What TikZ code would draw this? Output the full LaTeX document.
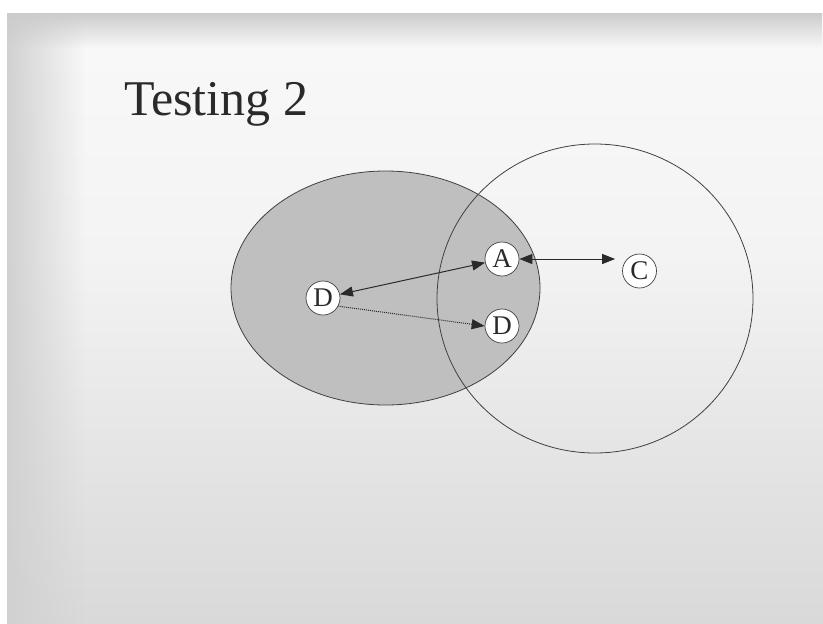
\documentclass[tikz,border=0pt]{standalone}
\usepackage{fontspec}
\setmainfont{Liberation Serif}
\usetikzlibrary{arrows.meta,fadings}
\definecolor{bgbottom}{HTML}{D0D0D0}
\definecolor{bglow}{HTML}{D5D5D5}
\definecolor{bgmid}{HTML}{E2E2E2}
\definecolor{bgup}{HTML}{F3F3F3}
\definecolor{bgtop}{HTML}{F9F9F9}
\definecolor{ellfill}{HTML}{BFBFBF}
\definecolor{inkc}{HTML}{2A2A2A}
\definecolor{edgec}{HTML}{404040}
\pgfdeclareverticalshading{slidebg}{100bp}{color(0bp)=(bgbottom); color(20bp)=(bglow); color(36bp)=(bgmid); color(55bp)=(bgup); color(75bp)=(bgtop); color(100bp)=(bgtop)}
\tikzfading[name=fadeR, left color=transparent!0, right color=transparent!100]
\tikzfading[name=fadeD, top color=transparent!0, bottom color=transparent!100]
\tikzset{
  pt/.style={circle, draw=edgec, line width=0.7pt, fill=white, inner sep=0pt,
    minimum width=34pt, minimum height=33pt, font=\fontsize{27}{27}\selectfont, text=inkc},
  link/.style={draw=inkc, line width=1pt, {Triangle[length=13pt,width=10pt]}-{Triangle[length=13pt,width=10pt]}},
  dotlink/.style={draw=inkc, line width=1pt, dash pattern=on 1pt off 1pt, -{Triangle[length=13pt,width=10pt]}},
  region/.style={draw=edgec, line width=0.8pt}
}
\begin{document}
\begin{tikzpicture}[x=1pt,y=-1pt]
\useasboundingbox (0,0) rectangle (823,624);
\fill[white] (0,0) rectangle (823,624);
\shade[shading=slidebg] (7,13) rectangle (823,624);
\fill[black!18, path fading=fadeR] (7,13) rectangle (85,624);
\fill[black!20, path fading=fadeD] (7,13) rectangle (823,48);
\node[anchor=base west, inner sep=0pt, text=inkc, font=\fontsize{50}{50}\selectfont] (title) at (124,115) {Testing 2};
\draw[region, fill=ellfill] (385.5,288) ellipse [x radius=154.5pt, y radius=117pt];
\draw[region] (595,298.5) ellipse [x radius=158pt, y radius=154.5pt];
\node[pt] (D1) at (323,298) {D};
\node[pt] (A) at (502,259) {A};
\node[pt] (D2) at (502,326) {D};
\node[pt] (C) at (639.5,271) {C};
\draw[link] (D1) -- (A);
\draw[dotlink] (D1.-28) -- (D2.west);
\draw[link, shorten >=7pt] (A.east) -- (A.east -| C.west);
\end{tikzpicture}
\end{document}
